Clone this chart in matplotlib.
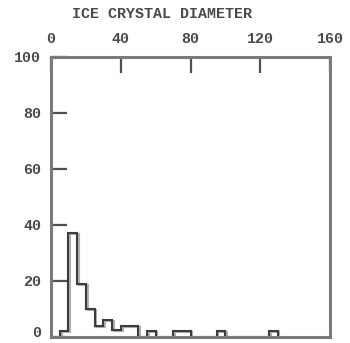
import matplotlib
matplotlib.use("Agg")
import matplotlib.pyplot as plt
import matplotlib.patheffects as pe

title = "ICE CRYSTAL DIAMETER"
x_ticks = [0, 40, 80, 120, 160]
y_ticks = [0, 20, 40, 60, 80, 100]
bin_edges = list(range(5, 131, 5))
counts = [2.2, 37, 19, 10, 4, 6, 2.4, 4, 4, 0, 2.2, 0, 0, 2.2, 2.2,
          0, 0, 0, 2.2, 0, 0, 0, 0, 0, 2.2]

W, H = 350, 343
fig = plt.figure(figsize=(W / 100, H / 100), dpi=100)
ax = fig.add_axes([51 / W, (H - 337) / H, (330 - 51) / W, (337 - 57) / H])

font = dict(family=["Liberation Mono", "DejaVu Sans Mono"], weight="bold",
            size=10.8, color="#4a4a4a")

ax.stairs(counts, bin_edges, baseline=0, color="#3c3c3c", lw=1.5,
          path_effects=[pe.SimpleLineShadow(offset=(1.3, -0.6), shadow_color="#b0b0b0", alpha=1),
                        pe.Normal()])

ax.set_xlim(0, 160)
ax.set_ylim(0, 100)
ax.set_xticks(x_ticks)
ax.set_yticks(y_ticks)
ax.set_xticklabels([str(v) for v in x_ticks], fontdict=font)
ax.set_yticklabels([str(v) for v in y_ticks], fontdict=font)
ax.xaxis.tick_top()
ax.tick_params(axis="x", direction="in", length=11.5, width=1.6, color="#505050", pad=8)
ax.tick_params(axis="y", direction="in", length=11.5, width=1.6, color="#505050", pad=7,
               right=False)
ax.tick_params(axis="x", bottom=False)
ax.get_yticklabels()[0].set_va("baseline")

for s in ax.spines.values():
    s.set_color("#7a7a7a")
    s.set_linewidth(2.2)

fig.text(161.5 / W, 1 - 14 / H, title, ha="center", va="center", **font)

fig.savefig("out.png", dpi=100)
